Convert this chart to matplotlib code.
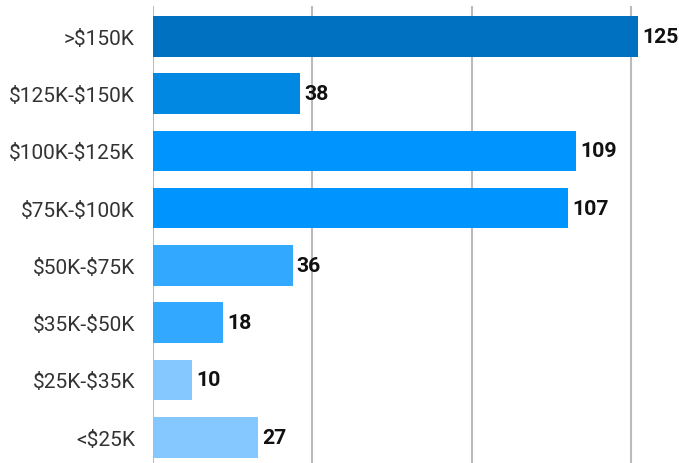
import matplotlib
matplotlib.use("Agg")
import matplotlib.pyplot as plt

categories = [">$150K", "$125K-$150K", "$100K-$125K", "$75K-$100K",
              "$50K-$75K", "$35K-$50K", "$25K-$35K", "<$25K"]
values = [125, 38, 109, 107, 36, 18, 10, 27]
colors = ["#0070C0", "#0088E2", "#0094FF", "#0094FF",
          "#33A8FF", "#33A8FF", "#85C8FF", "#85C8FF"]

plt.rcParams['font.family'] = ['Roboto', 'DejaVu Sans']
plt.rcParams['text.parse_math'] = False

W, H = 679, 464
fig = plt.figure(figsize=(W / 100, H / 100), dpi=100)
ax = fig.add_axes([153 / W, 0, (W - 153) / W, (H - 7) / H])

ypos = list(range(len(categories)))
ax.barh(ypos, values, height=0.71, color=colors, zorder=3)
for y, v in zip(ypos, values):
    ax.annotate(str(v), (v, y), xytext=(3, 0), textcoords="offset points",
                ha="left", va="center", fontsize=15.3, fontweight="bold",
                color="#111111", zorder=4)

ax.set_xlim(0, 135.6)
ax.set_ylim(7.45, -0.53)
ax.set_xticks([0, 41.1, 82.2, 123.3])
ax.set_xticklabels([])
ax.tick_params(axis="x", length=0)
ax.grid(axis="x", color="#BBBBBB", linewidth=1.5, zorder=0)
ax.set_yticks(ypos)
ax.set_yticklabels(categories, fontsize=15, color="#333333")
ax.tick_params(axis="y", length=0, pad=13)
for s in ax.spines.values():
    s.set_visible(False)

fig.savefig("out.png", dpi=100)
